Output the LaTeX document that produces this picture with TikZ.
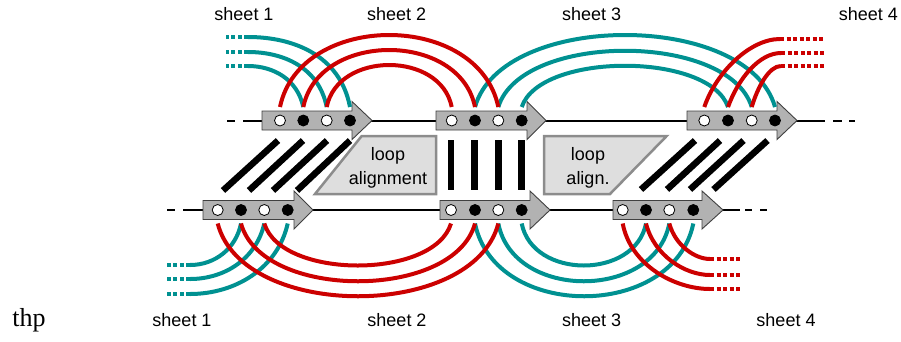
\documentclass[tikz,border=0pt]{standalone}
\usepackage{fontspec}
\newfontfamily\sheetfont{Liberation Sans}
\newfontfamily\thpfont{Liberation Serif}
\definecolor{myred}{RGB}{204,0,0}
\definecolor{myteal}{RGB}{0,145,145}
\definecolor{arrowgray}{RGB}{178,178,178}
\definecolor{boxfill}{RGB}{222,222,222}
\definecolor{boxedge}{RGB}{140,140,140}
\newcommand{\flowarrow}[4]{%
  \draw[arrowbody] (#1,#4-9.5) -- (#2,#4-9.5) -- (#2,#4-19) -- (#3,#4) -- (#2,#4+19) -- (#2,#4+9.5) -- (#1,#4+9.5) -- cycle;}
\begin{document}
\begin{tikzpicture}[x=1pt,y=-1pt,
  mainline/.style={line width=2pt, black},
  arrowbody/.style={fill=arrowgray, draw=black!75, line width=0.9pt, line join=miter},
  wdot/.style={circle, draw=black, fill=white, line width=0.8pt, inner sep=0pt, minimum size=11pt},
  bdot/.style={wdot, fill=black},
  barline/.style={line width=6.5pt, black},
  redc/.style={line width=4pt, myred},
  tealc/.style={line width=4pt, myteal},
  tailend/.style={dash pattern=on 4pt off 2.5pt},
  loopbox/.style={fill=boxfill, draw=boxedge, line width=2.5pt, line join=miter},
  lbl/.style={font=\sheetfont\fontsize{18}{21}\selectfont, inner sep=0pt, anchor=base},
]
\useasboundingbox (0,0) rectangle (901,341);

% main lines
\draw[mainline] (227,120.5) -- (235,120.5);
\draw[mainline] (243,120.5) -- (825,120.5);
\draw[mainline] (833,120.5) -- (842,120.5);
\draw[mainline] (849,120.5) -- (855,120.5);
\draw[mainline] (167,210) -- (175,210);
\draw[mainline] (183,210) -- (740,210);
\draw[mainline] (745,210) -- (752,210);
\draw[mainline] (760,210) -- (767,210);

% arrows
\flowarrow{262}{352}{372}{120.5}
\flowarrow{436}{527}{546}{120.5}
\flowarrow{687}{777}{797}{120.5}
\flowarrow{203}{294}{313}{210}
\flowarrow{440}{530}{550}{210}
\flowarrow{613}{702}{723}{210}

% dots, top
\node[wdot] (t1d1) at (280,120.5) {};
\node[bdot] (t1d2) at (303.3,120.5) {};
\node[wdot] (t1d3) at (326.7,120.5) {};
\node[bdot] (t1d4) at (350,120.5) {};
\node[wdot] (t2d1) at (451.7,120.5) {};
\node[bdot] (t2d2) at (475,120.5) {};
\node[wdot] (t2d3) at (498.3,120.5) {};
\node[bdot] (t2d4) at (521.7,120.5) {};
\node[wdot] (t3d1) at (704.3,120.5) {};
\node[bdot] (t3d2) at (728,120.5) {};
\node[wdot] (t3d3) at (751.7,120.5) {};
\node[bdot] (t3d4) at (775,120.5) {};
% dots, bottom
\node[wdot] (b1d1) at (217.7,210) {};
\node[bdot] (b1d2) at (241,210) {};
\node[wdot] (b1d3) at (264.3,210) {};
\node[bdot] (b1d4) at (287.7,210) {};
\node[wdot] (b2d1) at (451,210) {};
\node[bdot] (b2d2) at (475,210) {};
\node[wdot] (b2d3) at (498.3,210) {};
\node[bdot] (b2d4) at (521.7,210) {};
\node[wdot] (b3d1) at (622.7,210) {};
\node[bdot] (b3d2) at (646,210) {};
\node[wdot] (b3d3) at (669.3,210) {};
\node[bdot] (b3d4) at (693.3,210) {};

% curve end points
\coordinate (t1d1e) at (280,107); \coordinate (t1d2e) at (303.3,107);
\coordinate (t1d3e) at (326.7,107); \coordinate (t1d4e) at (350,107);
\coordinate (t2d1e) at (451.7,107); \coordinate (t2d2e) at (475,107);
\coordinate (t2d3e) at (498.3,107); \coordinate (t2d4e) at (521.7,107);
\coordinate (t3d1e) at (704.3,107); \coordinate (t3d2e) at (728,107);
\coordinate (t3d3e) at (751.7,107); \coordinate (t3d4e) at (775,107);
\coordinate (b1d1e) at (217.7,223.5); \coordinate (b1d2e) at (241,223.5);
\coordinate (b1d3e) at (264.3,223.5); \coordinate (b1d4e) at (287.7,223.5);
\coordinate (b2d1e) at (451,223.5); \coordinate (b2d2e) at (475,223.5);
\coordinate (b2d3e) at (498.3,223.5); \coordinate (b2d4e) at (521.7,223.5);
\coordinate (b3d1e) at (622.7,223.5); \coordinate (b3d2e) at (646,223.5);
\coordinate (b3d3e) at (669.3,223.5); \coordinate (b3d4e) at (693.3,223.5);
% free ends
\coordinate (tl1) at (248,37);  \coordinate (tl1x) at (226,37);
\coordinate (tl2) at (248,52);  \coordinate (tl2x) at (226,52);
\coordinate (tl3) at (248,66);  \coordinate (tl3x) at (226,66);
\coordinate (tr1) at (780,39);  \coordinate (tr1x) at (825,39);
\coordinate (tr2) at (781,53);  \coordinate (tr2x) at (825,53);
\coordinate (tr3) at (781,66);  \coordinate (tr3x) at (825,66);
\coordinate (bl1) at (190,265); \coordinate (bl1x) at (165,265);
\coordinate (bl2) at (190,279); \coordinate (bl2x) at (165,279);
\coordinate (bl3) at (190,294); \coordinate (bl3x) at (165,294);
\coordinate (br1) at (710,259); \coordinate (br1x) at (742,259);
\coordinate (br2) at (710,275); \coordinate (br2x) at (742,275);
\coordinate (br3) at (710,289); \coordinate (br3x) at (742,289);

% teal curves
\draw[tealc] (t1d4e) .. controls +(-10,-52) and +(45,0) .. (tl1);
\draw[tealc] (t1d3e) .. controls +(-8,-40) and +(35,0) .. (tl2);
\draw[tealc] (t1d2e) .. controls +(-6,-28) and +(25,0) .. (tl3);
\draw[tealc,tailend] (tl1) -- (tl1x);
\draw[tealc,tailend] (tl2) -- (tl2x);
\draw[tealc,tailend] (tl3) -- (tl3x);
\draw[tealc] (t2d2e) .. controls +(27,-96) and +(-27,-96) .. (t3d4e);
\draw[tealc] (t2d3e) .. controls +(23,-75) and +(-23,-75) .. (t3d3e);
\draw[tealc] (t2d4e) .. controls +(18.5,-55) and +(-18.5,-55) .. (t3d2e);
\draw[tealc] (b1d2e) .. controls +(-5,25) and +(25,0) .. (bl1);
\draw[tealc] (b1d3e) .. controls +(-8,35) and +(35,0) .. (bl2);
\draw[tealc] (b1d4e) .. controls +(-10,45) and +(45,0) .. (bl3);
\draw[tealc,tailend] (bl1) -- (bl1x);
\draw[tealc,tailend] (bl2) -- (bl2x);
\draw[tealc,tailend] (bl3) -- (bl3x);
\draw[tealc] (b2d2e) .. controls +(20,97) and +(-20,97) .. (b3d4e);
\draw[tealc] (b2d3e) .. controls +(15,77) and +(-15,77) .. (b3d3e);
\draw[tealc] (b2d4e) .. controls +(11,56) and +(-11,56) .. (b3d2e);

% red curves
\draw[redc] (t1d1e) .. controls +(20,-96) and +(-20,-96) .. (t2d3e);
\draw[redc] (t1d2e) .. controls +(15.5,-76) and +(-15.5,-76) .. (t2d2e);
\draw[redc] (t1d3e) .. controls +(11,-56) and +(-11,-56) .. (t2d1e);
\draw[redc] (t3d1e) .. controls +(12,-35) and +(-30,0) .. (tr1);
\draw[redc] (t3d2e) .. controls +(10,-28) and +(-22,0) .. (tr2);
\draw[redc] (t3d3e) .. controls +(6,-20) and +(-12,0) .. (tr3);
\draw[redc,tailend] (tr1) -- (tr1x);
\draw[redc,tailend] (tr2) -- (tr2x);
\draw[redc,tailend] (tr3) -- (tr3x);
\draw[redc] (b1d1e) .. controls +(25,97) and +(-25,97) .. (b2d3e);
\draw[redc] (b1d2e) .. controls +(21,77) and +(-21,77) .. (b2d2e);
\draw[redc] (b1d3e) .. controls +(17,56) and +(-17,56) .. (b2d1e);
\draw[redc] (b3d1e) .. controls +(8,42) and +(-35,0) .. (br3);
\draw[redc] (b3d2e) .. controls +(8,32) and +(-25,0) .. (br2);
\draw[redc] (b3d3e) .. controls +(6,22) and +(-15,0) .. (br1);
\draw[redc,tailend] (br1) -- (br1x);
\draw[redc,tailend] (br2) -- (br2x);
\draw[redc,tailend] (br3) -- (br3x);

% bars
\draw[barline] (223,190.5) -- (278,140.5);
\draw[barline] (249,190.5) -- (303,140.5);
\draw[barline] (273,190.5) -- (327,140.5);
\draw[barline] (297,190.5) -- (350,140.5);
\draw[barline] (451,140) -- (451,190);
\draw[barline] (474.5,140) -- (474.5,190);
\draw[barline] (498.3,140) -- (498.3,190);
\draw[barline] (521.7,140) -- (521.7,190);
\draw[barline] (641,189.5) -- (695,140.5);
\draw[barline] (667,189.5) -- (720,140.5);
\draw[barline] (690,189.5) -- (743.5,140.5);
\draw[barline] (713.5,189.5) -- (767.5,140.5);

% loop alignment boxes
\draw[loopbox] (361.7,136) -- (436,136) -- (436,194) -- (315,194) -- cycle;
\draw[loopbox] (544,136) -- (666.7,136) -- (610,194) -- (544,194) -- cycle;
\node[lbl] (la1) at (388,160) {loop};
\node[lbl] (la2) at (388,184) {alignment};
\node[lbl] (lb1) at (588,160) {loop};
\node[lbl] (lb2) at (588,184) {align.};

% sheet labels
\node[lbl] (s1t) at (244,20) {sheet 1};
\node[lbl] (s2t) at (396.7,20) {sheet 2};
\node[lbl] (s3t) at (591.7,20) {sheet 3};
\node[lbl] (s4t) at (868.3,20) {sheet 4};
\node[lbl] (s1b) at (182,326.5) {sheet 1};
\node[lbl] (s2b) at (397,326.5) {sheet 2};
\node[lbl] (s3b) at (591.7,326.5) {sheet 3};
\node[lbl] (s4b) at (786,326.5) {sheet 4};
\node[font=\thpfont\fontsize{26}{30}\selectfont, inner sep=0pt, anchor=base] (thp) at (29,326) {thp};
\end{tikzpicture}
\end{document}
